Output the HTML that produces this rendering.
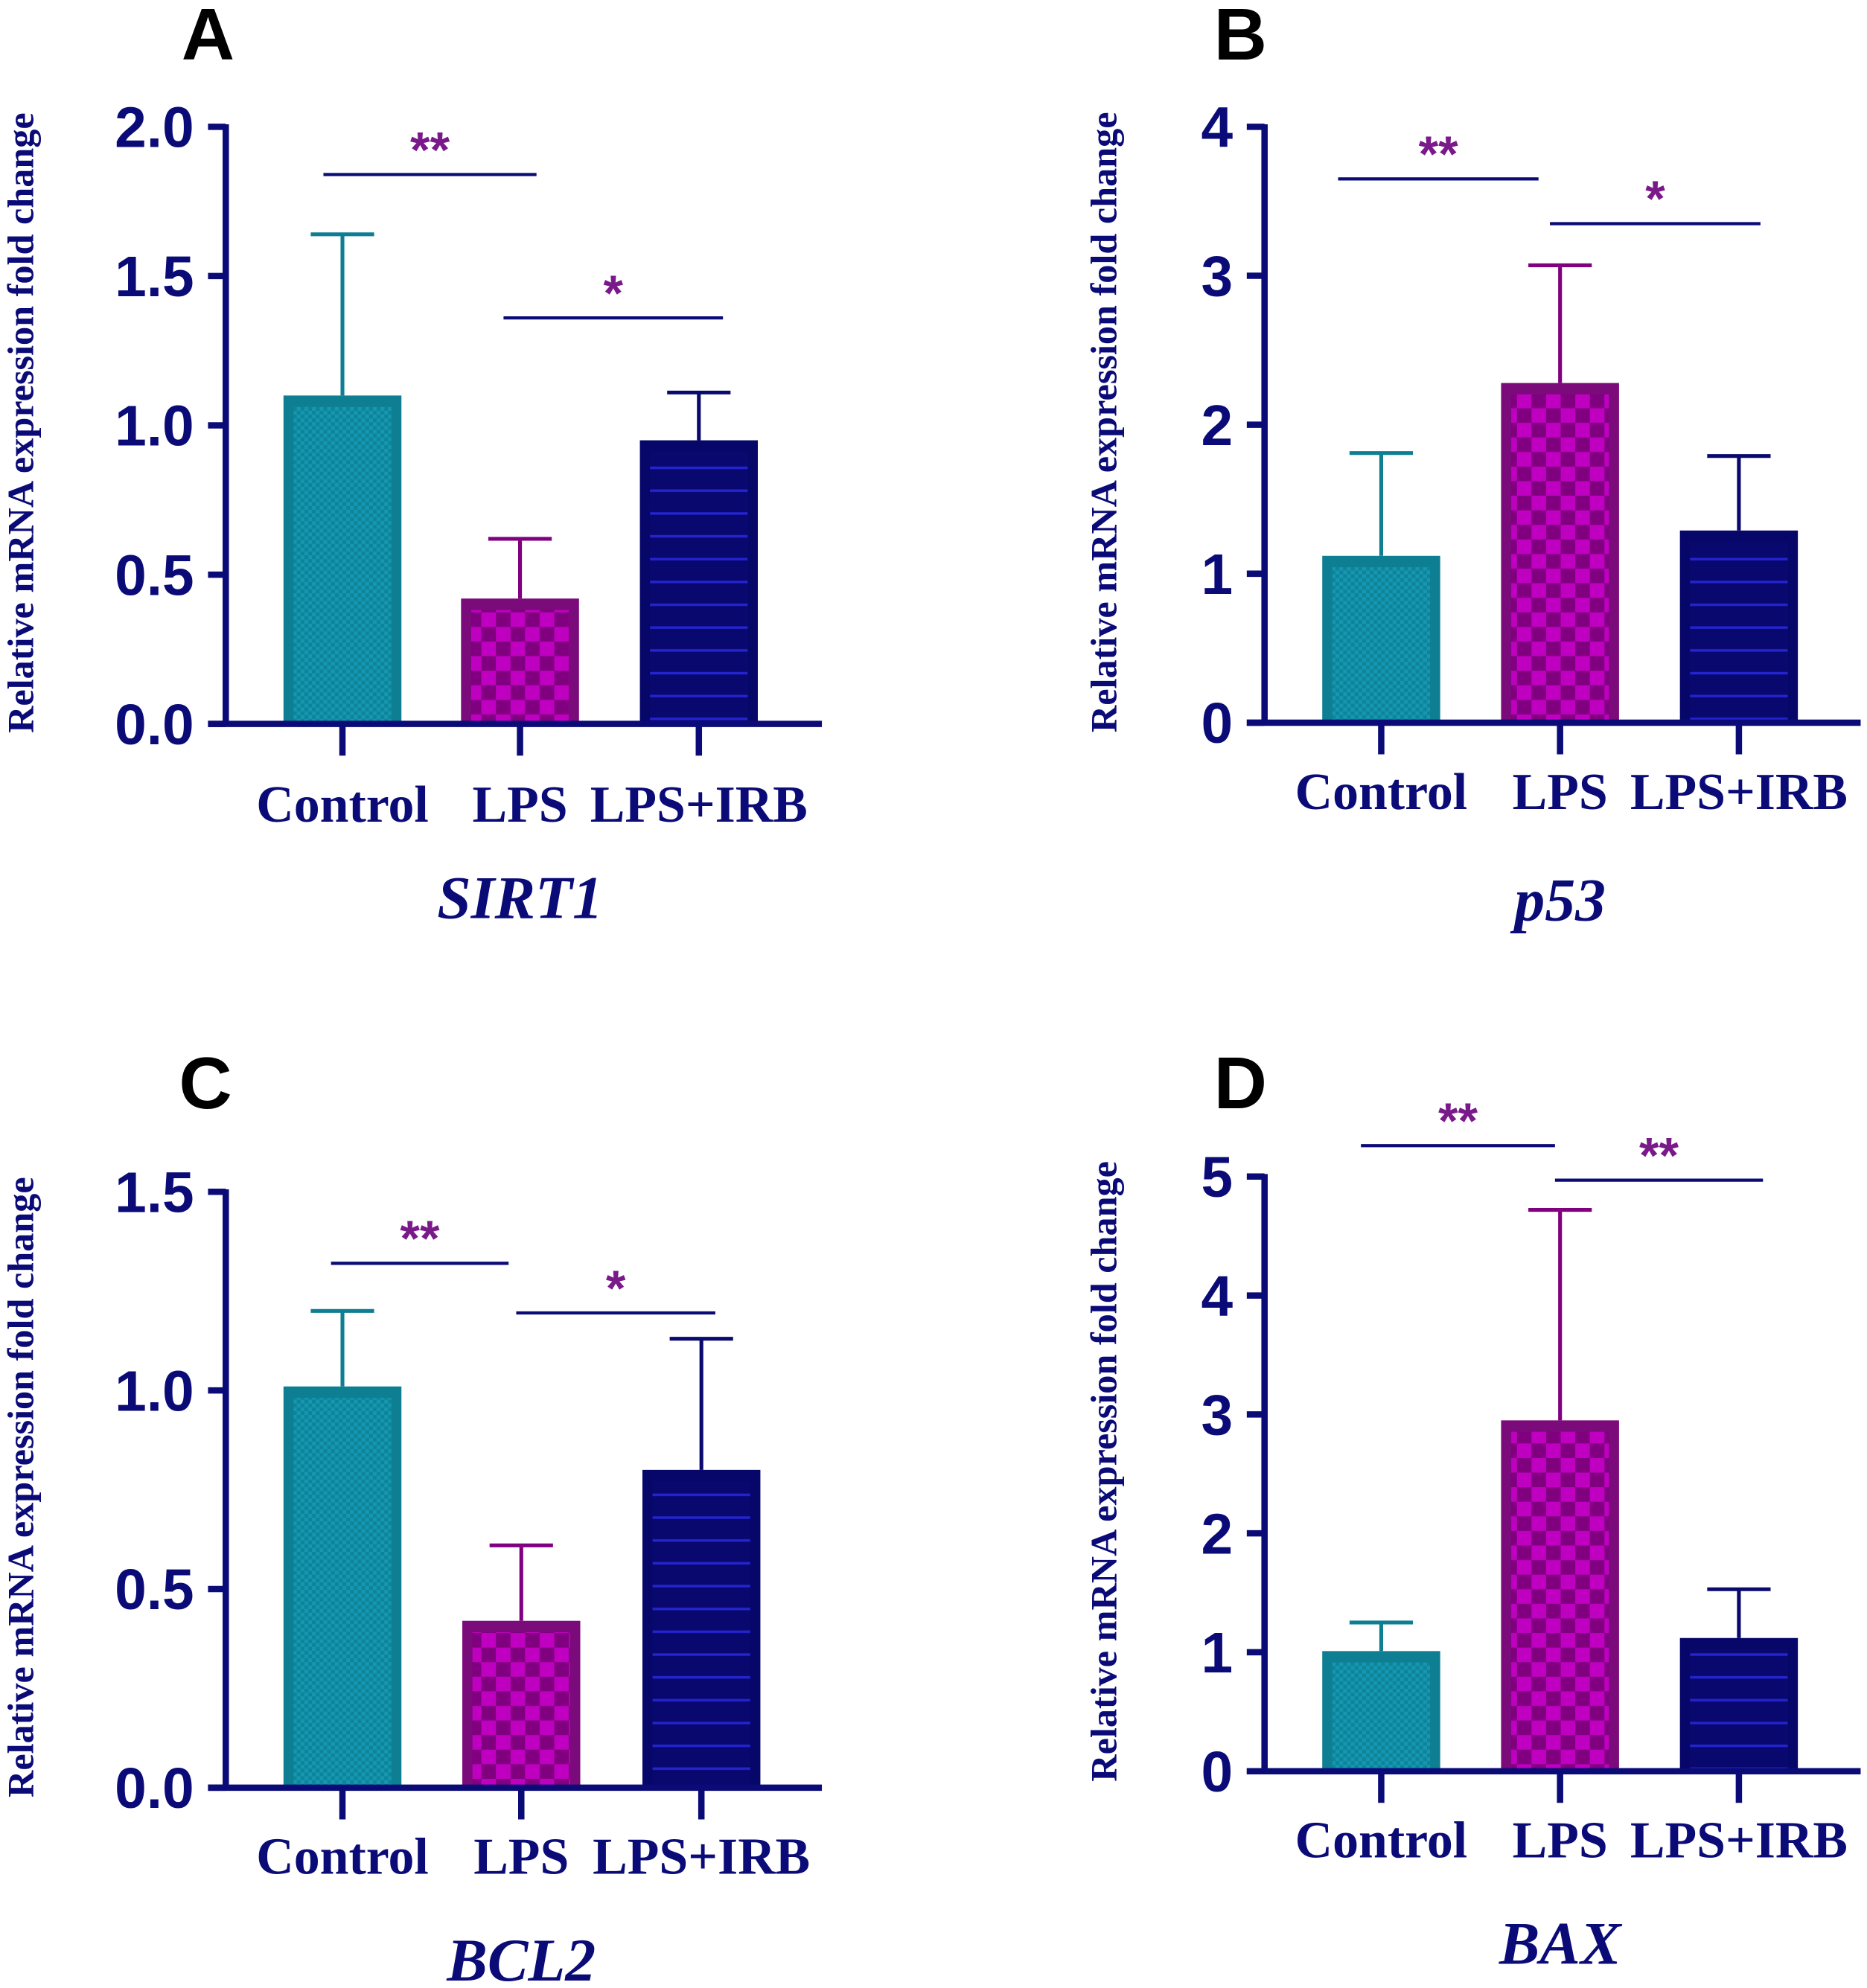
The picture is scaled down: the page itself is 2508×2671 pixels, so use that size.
<!DOCTYPE html>
<html><head><meta charset="utf-8"><style>
html,body{margin:0;padding:0;background:#fff}
svg{display:block}
.serif{font-family:"Liberation Serif",serif}
.sans{font-family:"Liberation Sans",sans-serif}
</style></head><body>
<svg id="fig" width="2508" height="2671" viewBox="0 0 1472 1568" preserveAspectRatio="none" xmlns="http://www.w3.org/2000/svg">
<defs>
<pattern id="pCtrl" width="6" height="6" patternUnits="userSpaceOnUse">
<rect width="6" height="6" fill="#1597B2"/><rect width="3" height="3" fill="#0E8498"/><rect x="3" y="3" width="3" height="3" fill="#0E8498"/></pattern>
<pattern id="pLps" width="23" height="23" patternUnits="userSpaceOnUse">
<rect width="23" height="23" fill="#C000C0"/><rect width="11.5" height="11.5" fill="#800080"/><rect x="11.5" y="11.5" width="11.5" height="11.5" fill="#800080"/></pattern>
<pattern id="pIrb" width="10" height="18" patternUnits="userSpaceOnUse">
<rect width="10" height="18" fill="#08086E"/><rect y="8" width="10" height="2" fill="#2424D0"/></pattern>
</defs>
</svg>
<script>
const groups = ["Control","LPS","LPS+IRB"];
const sirt1Means = [1.10,0.42,0.95];
const sirt1Errs = [1.64,0.62,1.11];
const sirt1Ticks = ["0.0","0.5","1.0","1.5","2.0"];
const p53Means = [1.12,2.28,1.29];
const p53Errs = [1.81,3.07,1.79];
const p53Ticks = ["0","1","2","3","4"];
const bcl2Means = [1.01,0.42,0.80];
const bcl2Errs = [1.20,0.61,1.13];
const bcl2Ticks = ["0.0","0.5","1.0","1.5"];
const baxMeans = [1.01,2.95,1.12];
const baxErrs = [1.25,4.72,1.53];
const baxTicks = ["0","1","2","3","4","5"];
const sirt1Sig = [[0,1,1.84,"**"],[1,2,1.36,"*"]];
const p53Sig = [[0,1,3.65,"**"],[1,2,3.35,"*"]];
const bcl2Sig = [[0,1,1.32,"**"],[1,2,1.195,"*"]];
const baxSig = [[0,1,5.26,"**"],[1,2,4.97,"**"]];

const NS="http://www.w3.org/2000/svg";
const svg=document.getElementById('fig');
const NAVY="#0B0B78", PURP="#7A1A8A";
function mk(tag,attrs,parent){const e=document.createElementNS(NS,tag);for(const k in attrs)e.setAttribute(k,attrs[k]);(parent||svg).appendChild(e);return e;}

const panels=[
 {letter:"A",gene:"SIRT1",means:sirt1Means,errs:sirt1Errs,ticks:sirt1Ticks,sig:sirt1Sig,so:[[-15,13],[-13,19]],max:2,ax:178,top:100,zero:571,lx:164,ly:47,ylx:16,gx:[270,410,551],labY:648,titY:724},
 {letter:"B",gene:"p53",means:p53Means,errs:p53Errs,ticks:p53Ticks,sig:p53Sig,so:[[-34,-17],[-8,17]],max:4,ax:997,top:100,zero:570,lx:978,ly:47,ylx:870,gx:[1089,1230,1371],labY:638,titY:726},
 {letter:"C",gene:"BCL2",means:bcl2Means,errs:bcl2Errs,ticks:bcl2Ticks,sig:bcl2Sig,so:[[-9,-10],[-4,11]],max:1.5,ax:178,top:940,zero:1410,lx:162,ly:874,ylx:16,gx:[270,411,553],labY:1478,titY:1562},
 {letter:"D",gene:"BAX",means:baxMeans,errs:baxErrs,ticks:baxTicks,sig:baxSig,so:[[-16,-4],[-4,19]],max:5,ax:997,top:928,zero:1397,lx:978,ly:874,ylx:870,gx:[1089,1230,1371],labY:1465,titY:1549}
];
const fills=["url(#pCtrl)","url(#pLps)","url(#pIrb)"];
const borders=["#0E7F93","#7B0A7B","#07076A"];
const errCol=["#0E7F93","#800080","#0A0A6E"];

panels.forEach(p=>{
  const g=mk('g',{});
  
  
  const y=v=>p.zero-(v/p.max)*(p.zero-p.top);
  const L=mk('text',{class:'sans',x:p.lx,y:p.ly,'font-size':58,'font-weight':'bold','text-anchor':'middle',fill:'#000'},g);
  L.textContent=p.letter;
  
  
  const mid=(p.top+p.zero)/2-2;
  const yl=mk('text',{class:'serif',x:p.ylx,y:mid,'font-size':29.5,'font-weight':'bold',fill:NAVY,'text-anchor':'middle',transform:`rotate(-90 ${p.ylx} ${mid})`,dy:10},g);
  yl.textContent="Relative mRNA expression fold change";
  
  
  p.means.forEach((m,i)=>{
    const cx=p.gx[i], w=93, x0=cx-w/2, yt=y(m);
    const eb=mk('line',{x1:cx,x2:cx,y1:yt,y2:y(p.errs[i]),stroke:errCol[i],'stroke-width':3},g);
    
    
    const cap=mk('line',{x1:cx-25,x2:cx+25,y1:y(p.errs[i]),y2:y(p.errs[i]),stroke:errCol[i],'stroke-width':3},g);
    
    
    const r=mk('rect',{x:x0,y:yt,width:w,height:p.zero-yt,fill:borders[i]},g);
    
    
    const ih=Math.max(0,p.zero-yt-9);
    const ri=mk('rect',{x:x0+8,y:yt+9,width:w-16,height:ih,fill:fills[i]},g);
    
    
    const tk=mk('line',{x1:cx,x2:cx,y1:p.zero,y2:p.zero+25,stroke:NAVY,'stroke-width':5},g);
    
    
    const lt=mk('text',{class:'serif',x:cx,y:p.labY,'font-size':41,'font-weight':'bold',fill:NAVY,'text-anchor':'middle'},g);
    lt.textContent=groups[i];
    
    
  });
  const ya=mk('line',{x1:p.ax,x2:p.ax,y1:p.top-2,y2:p.zero+2,stroke:NAVY,'stroke-width':5},g);
  
  
  const xa=mk('line',{x1:p.ax-14,x2:p.ax+470,y1:p.zero,y2:p.zero,stroke:NAVY,'stroke-width':5},g);
  
  
  p.ticks.forEach((t,i)=>{
    const v=i*p.max/(p.ticks.length-1), ty=y(v);
    const tl=mk('line',{x1:p.ax-14,x2:p.ax,y1:ty,y2:ty,stroke:NAVY,'stroke-width':5},g);
    
    
    const tt=mk('text',{class:'sans',x:p.ax-25,y:ty+16,'font-size':45,'font-weight':'bold',fill:NAVY,'text-anchor':'end'},g);
    tt.textContent=t;
    
    
  });
  p.sig.forEach((s,k)=>{
    const x1=p.gx[s[0]]+p.so[k][0], x2=p.gx[s[1]]+p.so[k][1], sy=y(s[2]);
    const sl=mk('line',{x1:x1,x2:x2,y1:sy,y2:sy,stroke:NAVY,'stroke-width':2.5},g);
    
    
    const st=mk('text',{class:'sans',x:(x1+x2)/2,y:sy-6,'font-size':40,'font-weight':'bold',fill:PURP,'text-anchor':'middle'},g);
    st.textContent=s[3];
    
    
  });
  const ti=mk('text',{class:'serif',x:p.gx[1],y:p.titY,'font-size':48,'font-weight':'bold','font-style':'italic',fill:NAVY,'text-anchor':'middle'},g);
  ti.textContent=p.gene;
  
  
});
</script>
</body></html>
